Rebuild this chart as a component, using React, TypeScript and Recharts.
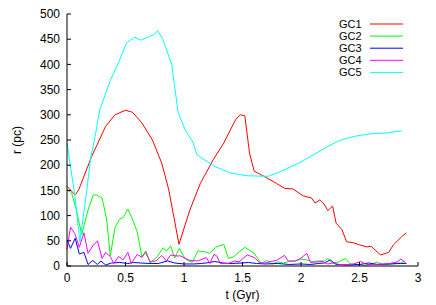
import React from "react";
import {
  LineChart,
  Line,
  XAxis,
  YAxis,
  Legend,
} from "recharts";

// [t (Gyr), r (pc)] vertices
const gc1: [number, number][] = [
  [0, 158], [0.07, 141], [0.1, 151], [0.21, 217], [0.33, 277], [0.41, 300], [0.5, 309],
  [0.56, 305], [0.64, 284], [0.73, 250], [0.81, 204], [0.87, 151], [0.957, 43], [1.05, 111],
  [1.14, 164], [1.25, 211], [1.34, 244], [1.44, 290], [1.48, 300], [1.52, 298], [1.56, 224],
  [1.6, 188], [1.66, 181], [1.79, 164], [1.86, 154], [1.93, 153], [2.02, 139], [2.09, 135],
  [2.12, 125], [2.16, 131], [2.19, 125], [2.23, 110], [2.27, 119], [2.3, 85], [2.35, 72],
  [2.39, 48], [2.45, 46], [2.5, 42], [2.56, 38], [2.6, 39], [2.68, 22], [2.75, 27],
  [2.79, 42], [2.86, 58], [2.9, 66],
];

const gc2: [number, number][] = [
  [0, 151], [0.04, 145], [0.08, 111], [0.126, 62], [0.18, 111], [0.225, 141], [0.25, 141],
  [0.3, 135], [0.34, 91], [0.37, 20], [0.41, 76], [0.45, 93], [0.48, 96], [0.52, 113],
  [0.55, 98], [0.6, 68], [0.64, 18], [0.675, 30], [0.71, 6], [0.77, 18], [0.82, 36],
  [0.85, 30], [0.886, 40], [0.92, 16], [0.96, 35], [1.01, 14], [1.07, 7], [1.12, 30],
  [1.18, 28], [1.22, 25], [1.27, 37], [1.34, 43], [1.38, 15], [1.42, 18], [1.52, 37],
  [1.6, 25], [1.66, 5], [1.71, 11], [1.75, 4], [1.8, 8], [1.85, 6], [1.9, 9], [1.95, 10],
  [2.0, 14], [2.05, 12], [2.1, 9], [2.15, 10], [2.2, 10], [2.23, 15], [2.27, 6], [2.32, 8],
  [2.38, 15], [2.42, 4], [2.5, 3], [2.55, 1], [2.6, 3], [2.65, 8], [2.7, 2], [2.75, 3],
  [2.8, 5], [2.85, 6], [2.89, 10],
];

const gc3: [number, number][] = [
  [0, 52], [0.03, 35], [0.07, 55], [0.105, 24], [0.145, 27], [0.18, 3], [0.22, 11],
  [0.26, 3], [0.29, 10], [0.33, 2], [0.38, 6], [0.45, 7], [0.52, 5], [0.57, 7], [0.63, 6],
  [0.7, 5], [0.78, 5], [0.86, 10], [0.92, 6], [1.0, 4], [1.08, 4], [1.15, 5], [1.22, 7],
  [1.26, 9], [1.33, 6], [1.4, 5], [1.5, 6], [1.55, 7], [1.62, 5], [1.7, 4], [1.8, 5],
  [1.9, 3], [2.0, 4], [2.08, 3], [2.15, 5], [2.2, 6], [2.25, 12], [2.3, 3], [2.4, 2],
  [2.5, 3], [2.58, 6], [2.65, 3], [2.75, 4], [2.85, 5], [2.9, 5],
];

const gc4: [number, number][] = [
  [0, 33], [0.03, 77], [0.07, 63], [0.105, 37], [0.145, 66], [0.18, 25], [0.22, 40],
  [0.26, 50], [0.3, 15], [0.33, 27], [0.37, 19], [0.4, 5], [0.44, 19], [0.48, 12],
  [0.52, 27], [0.55, 5], [0.6, 23], [0.64, 17], [0.67, 27], [0.71, 9], [0.76, 10],
  [0.81, 21], [0.85, 10], [0.886, 22], [0.93, 20], [0.97, 20], [1.05, 11], [1.12, 10],
  [1.19, 17], [1.22, 5], [1.256, 23], [1.28, 20], [1.31, 5], [1.38, 5], [1.43, 10],
  [1.47, 8], [1.54, 22], [1.6, 17], [1.65, 6], [1.7, 6], [1.74, 9], [1.79, 11], [1.86, 21],
  [1.89, 10], [1.95, 10], [1.99, 14], [2.05, 25], [2.08, 7], [2.14, 8], [2.18, 9],
  [2.23, 4], [2.27, 6], [2.33, 3], [2.4, 3], [2.45, 4], [2.51, 9], [2.56, 3], [2.62, 3],
  [2.7, 4], [2.76, 5], [2.82, 8], [2.855, 14], [2.9, 5],
];

const gc5: [number, number][] = [
  [0, 244], [0.068, 138], [0.11, 48], [0.17, 151], [0.2, 211], [0.24, 257], [0.28, 310],
  [0.37, 368], [0.44, 403], [0.51, 443], [0.58, 454], [0.63, 448], [0.68, 453], [0.74, 459],
  [0.775, 467], [0.82, 449], [0.895, 400], [0.95, 305], [1.01, 270], [1.08, 244],
  [1.11, 221], [1.25, 199], [1.39, 185], [1.54, 179], [1.72, 178], [1.82, 187], [1.99, 205],
  [2.11, 221], [2.22, 236], [2.33, 249], [2.45, 257], [2.58, 262], [2.73, 264], [2.86, 268],
];

const seriesNames = ["GC1", "GC2", "GC3", "GC4", "GC5"];
const seriesColors = ["#ff0000", "#00ff00", "#0000ff", "#ff00ff", "#00ffff"];
const xTicks = [0, 0.5, 1, 1.5, 2, 2.5, 3];
const yTicks = [0, 50, 100, 150, 200, 250, 300, 350, 400, 450, 500];

const FONT = '"Liberation Sans", Arial, Helvetica, sans-serif';

const toRows = (pts: [number, number][]) => pts.map(([t, r]) => ({ t, r }));
const allSeries = [gc1, gc2, gc3, gc4, gc5];

const renderLegend = (props: any) => {
  const payload = props.payload || [];
  return (
    <svg width={110} height={66}>
      {payload.map((entry: any, i: number) => {
        const y = 10 + i * 12.1;
        return (
          <g key={entry.value}>
            <text
              x={61.5}
              y={y}
              textAnchor="end"
              dominantBaseline="central"
              fontSize={11}
              fontFamily={FONT}
              fill="#000"
            >
              {entry.value}
            </text>
            <line x1={70} x2={103} y1={y} y2={y} stroke={entry.color} strokeWidth={1} />
          </g>
        );
      })}
    </svg>
  );
};

const YLabel = (props: any) => {
  const vb = props.viewBox || { x: 0, y: 14, width: 67, height: 252 };
  const cx = vb.x + 17;
  const cy = vb.y + vb.height / 2;
  return (
    <text
      x={cx}
      y={cy}
      transform={`rotate(-90 ${cx} ${cy})`}
      textAnchor="middle"
      dominantBaseline="central"
      fontSize={12}
      fontFamily={FONT}
      fill="#000"
    >
      r (pc)
    </text>
  );
};

const XLabel = (props: any) => {
  const vb = props.viewBox || { x: 67, y: 266, width: 351, height: 39 };
  return (
    <text
      x={vb.x + vb.width / 2}
      y={vb.y + 29}
      textAnchor="middle"
      dominantBaseline="central"
      fontSize={12}
      fontFamily={FONT}
      fill="#000"
    >
      t (Gyr)
    </text>
  );
};

const tickStyle = { fill: "#000", fontSize: 12, fontFamily: FONT };

export default function App() {
  return (
    <div style={{ position: "fixed", left: 0, top: 0, width: 436, height: 305, background: "#fff" }}>
      <LineChart
        width={436}
        height={305}
        margin={{ top: 14, right: 18, left: 0, bottom: 0 }}
        style={{ fontFamily: FONT }}
      >
        <XAxis
          type="number"
          dataKey="t"
          domain={[0, 3]}
          ticks={xTicks}
          height={39}
          tickSize={-4}
          tickMargin={11}
          tick={tickStyle}
          tickLine={{ stroke: "#000" }}
          axisLine={{ stroke: "#000" }}
          tickFormatter={(v: number) => String(v)}
          label={<XLabel />}
        />
        <XAxis
          xAxisId="top"
          orientation="top"
          type="number"
          dataKey="t"
          domain={[0, 3]}
          ticks={xTicks}
          height={0}
          tickSize={-4}
          tick={false as any}
          tickLine={{ stroke: "#000" }}
          axisLine={{ stroke: "#000" }}
        />
        <YAxis
          type="number"
          domain={[0, 500]}
          ticks={yTicks}
          width={67}
          tickSize={-4}
          tickMargin={11}
          tick={tickStyle}
          tickLine={{ stroke: "#000" }}
          axisLine={{ stroke: "#000" }}
          label={<YLabel />}
        />
        <YAxis
          yAxisId="right"
          orientation="right"
          type="number"
          domain={[0, 500]}
          ticks={yTicks}
          width={0}
          tickSize={-4}
          tick={false as any}
          tickLine={{ stroke: "#000" }}
          axisLine={{ stroke: "#000" }}
        />
        <Legend
          layout="horizontal"
          verticalAlign="middle"
          align="center"
          content={renderLegend}
          wrapperStyle={{ left: 300, top: 14, width: 110, height: 66 }}
        />
        {allSeries.map((pts, i) => (
          <Line
            key={seriesNames[i]}
            data={toRows(pts)}
            dataKey="r"
            name={seriesNames[i]}
            type="linear"
            stroke={seriesColors[i]}
            strokeWidth={1}
            dot={false}
            activeDot={false}
            isAnimationActive={false}
          />
        ))}
      </LineChart>
    </div>
  );
}
